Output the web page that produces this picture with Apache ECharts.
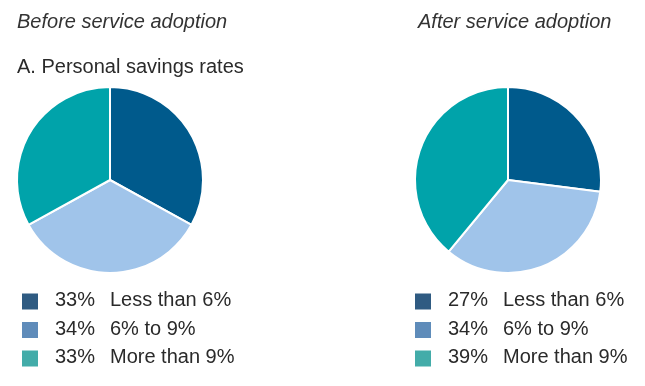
<!DOCTYPE html>
<html><head><meta charset="utf-8">
<script src="https://cdn.jsdelivr.net/npm/echarts@6/dist/echarts.min.js"></script>
<style>html,body{margin:0;padding:0;background:#fff}#c{width:645px;height:386px}</style>
</head><body><div id="c"></div>
<script>
const categories = ['Less than 6%', '6% to 9%', 'More than 9%'];
const beforeValues = [33, 34, 33];
const afterValues = [27, 34, 39];
const panelTitles = ['Before service adoption', 'After service adoption'];
const subTitle = 'A. Personal savings rates';

const sliceColors = ['#005a8c', '#a0c4ea', '#00a3aa'];
const legendColors = ['#2f5b82', '#5f8cba', '#43aca9'];
const FONT = '"Liberation Sans", Arial, Helvetica, sans-serif';

const chart = echarts.init(document.getElementById('c'), null, {renderer: 'canvas'});

function pieSeries(values, cx) {
  return {
    type: 'pie',
    center: [cx, 180],
    radius: 93,
    startAngle: 90,
    clockwise: true,
    label: {show: false},
    labelLine: {show: false},
    silent: true,
    animation: false,
    itemStyle: {borderColor: '#fff', borderWidth: 2},
    data: categories.map((c, i) => ({name: c, value: values[i], itemStyle: {color: sliceColors[i]}}))
  };
}

function legendGraphics(values, x) {
  const g = [];
  categories.forEach((c, i) => {
    const cy = 301.5 + i * 28.5;
    g.push({type: 'rect', left: x, top: cy - 8, shape: {width: 16, height: 16}, style: {fill: legendColors[i]}});
    g.push({type: 'text', left: x + 33, top: cy - 11, style: {text: values[i] + '%', font: '20px ' + FONT, fill: '#2a2a2a'}});
    g.push({type: 'text', left: x + 88, top: cy - 11, style: {text: c, font: '20px ' + FONT, fill: '#2a2a2a'}});
  });
  return g;
}

const graphics = [
  {type: 'text', left: 17, top: 12, style: {text: panelTitles[0], font: 'italic 20px ' + FONT, fill: '#333'}},
  {type: 'text', left: 418, top: 12, style: {text: panelTitles[1], font: 'italic 20px ' + FONT, fill: '#333'}},
  {type: 'text', left: 17, top: 57, style: {text: subTitle, font: '20px ' + FONT, fill: '#2a2a2a'}}
].concat(legendGraphics(beforeValues, 22), legendGraphics(afterValues, 415));

chart.setOption({
  animation: false,
  backgroundColor: '#fff',
  series: [pieSeries(beforeValues, 110), pieSeries(afterValues, 508)],
  graphic: graphics
});
</script></body></html>
